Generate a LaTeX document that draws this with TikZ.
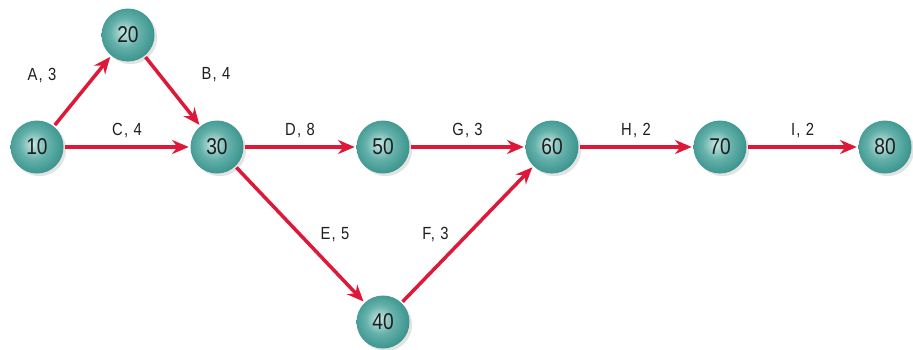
\documentclass[tikz,border=0pt]{standalone}
\usepackage{fontspec}
\setmainfont{Liberation Sans}[FakeStretch=0.84]
\newfontfamily\actfont{Liberation Sans}[FakeStretch=0.84, LetterSpace=7]
\usepackage{xcolor}
\usetikzlibrary{arrows.meta, positioning, shadows}

\definecolor{evred}{RGB}{222,24,56}
\definecolor{evlight}{RGB}{200,232,228}
\definecolor{evmid}{RGB}{100,176,170}
\definecolor{evteal}{RGB}{36,132,126}
\definecolor{evdark}{RGB}{24,112,106}
\definecolor{evtext}{RGB}{30,30,30}
\pgfdeclareradialshading{evball}{\pgfpoint{-4bp}{3bp}}{%
  color(0bp)=(evlight); color(14bp)=(evmid); color(34bp)=(evteal);
  color(50bp)=(evdark)}

\begin{document}
\begin{tikzpicture}[
    event/.style={circle, minimum size=10.6mm, inner sep=0pt,
                  shading=evball,
                  drop shadow={shadow xshift=1.5pt, shadow yshift=-1.5pt, opacity=0.22},
                  font=\fontsize{13}{15}\selectfont, text=evtext},
    act/.style={font=\actfont\fontsize{10}{12}\selectfont, text=evtext},
    -{Stealth[length=9.5pt, width=8pt]}, draw=evred, line width=2pt,
    on grid
  ]
  \useasboundingbox (-0.74,-4.04) rectangle (17.52,2.94);

  % events
  \node[event] (10) {10};
  \node[event, above right=2.24cm and 1.82cm of 10] (20) {20};
  \node[event, right=3.6cm of 10] (30) {30};
  \node[event, right=3.32cm of 30] (50) {50};
  \node[event, below=3.5cm of 50] (40) {40};
  \node[event, right=3.38cm of 50] (60) {60};
  \node[event, right=3.36cm of 60] (70) {70};
  \node[event, right=3.3cm of 70] (80) {80};

  % activities
  \draw (10) -- node[act, xshift=-0.81cm, yshift=0.32cm] {A, 3} (20);
  \draw (20) -- node[act, xshift=0.87cm, yshift=0.32cm] {B, 4} (30);
  \draw (10) -- node[act, yshift=0.34cm] {C, 4} (30);
  \draw (30) -- node[act, yshift=0.34cm] {D, 8} (50);
  \draw (30) -- node[act, xshift=0.70cm] {E, 5} (40);
  \draw (40) -- node[act, xshift=-0.64cm] {F, 3} (60);
  \draw (50) -- node[act, yshift=0.34cm] {G, 3} (60);
  \draw (60) -- node[act, yshift=0.34cm] {H, 2} (70);
  \draw (70) -- node[act, yshift=0.34cm] {I, 2} (80);
\end{tikzpicture}
\end{document}
